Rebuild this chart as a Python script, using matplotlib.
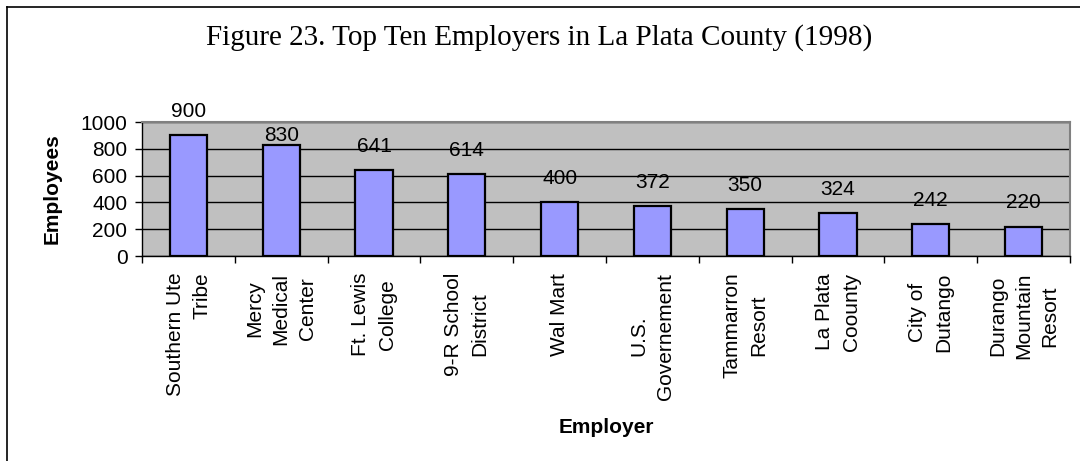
import matplotlib
matplotlib.use("Agg")
import matplotlib.pyplot as plt
from matplotlib.lines import Line2D
import numpy as np

categories = ["Southern Ute\nTribe", "Mercy\nMedical\nCenter", "Ft. Lewis\nCollege",
              "9-R School\nDistrict", "Wal Mart", "U.S.\nGovernement", "Tammarron\nResort",
              "La Plata\nCoounty", "City of\nDutango", "Durango\nMountain\nResort"]
employees = [900, 830, 641, 614, 400, 372, 350, 324, 242, 220]
yticks = [0, 200, 400, 600, 800, 1000]

# style: offset of value labels above bar tops (points)
label_offsets = [13, 2.6, 13, 13, 13, 13, 13, 13, 13, 13]
label_align = ["right"] + ["center"] * 9

plt.rcParams['font.family'] = ['Liberation Sans', 'DejaVu Sans']

fig = plt.figure(figsize=(10.8, 4.61), dpi=100)
ax = fig.add_axes([142/1080, 1-256/461, 928/1080, 134/461])
ax.set_facecolor("#C0C0C0")

x = np.arange(len(categories))
bars = ax.bar(x, employees, width=0.4, color="#9999FF", edgecolor="black", linewidth=1.6, zorder=3)
ax.set_xlim(-0.5, len(categories) - 0.5)
ax.set_ylim(0, 1000)
ax.set_yticks(yticks)
ax.set_yticklabels([str(v) for v in yticks], fontsize=15)
ax.yaxis.grid(True, color="black", linewidth=1.0, zorder=1)
ax.set_axisbelow(True)

ax.set_xticks(x)
ax.set_xticklabels(categories, rotation=90, fontsize=15, va="top", ha="center", linespacing=1.48)
for lbl, al in zip(ax.get_xticklabels(), label_align):
    lbl.set_multialignment(al)
ax.set_xticks(np.arange(len(categories) + 1) - 0.5, minor=True)
ax.tick_params(axis="x", which="major", length=0, pad=12)
ax.tick_params(axis="x", which="minor", length=5, width=1, color="black", direction="out")
ax.tick_params(axis="y", which="major", length=5, width=1, direction="out", pad=5.5)

for s in ["top", "right"]:
    ax.spines[s].set_color("#808080")
    ax.spines[s].set_linewidth(1.5)
for s in ["left", "bottom"]:
    ax.spines[s].set_color("black")
    ax.spines[s].set_linewidth(1.0)

for b, v, off in zip(bars, employees, label_offsets):
    ax.annotate(str(v), (b.get_x() + b.get_width() / 2, v), xytext=(0, off),
                textcoords="offset points", ha="center", va="baseline", fontsize=15, zorder=4)

ax.set_ylabel("Employees", fontsize=15, fontweight="bold")
ax.yaxis.set_label_coords((62 - 142) / 928, 0.5)
ax.set_xlabel("Employer", fontsize=15, fontweight="bold")
ax.xaxis.set_label_coords(0.5, (256 - 418) / 134)

fig.text(539 / 1080, 1 - 45 / 461, "Figure 23. Top Ten Employers in La Plata County (1998)",
         family=["Liberation Serif", "DejaVu Serif"], fontsize=21, ha="center", va="baseline")

# figure border (top and left edges visible)
fig.add_artist(Line2D([7/1080, 7/1080], [0, 1 - 7/461], transform=fig.transFigure, color="black", linewidth=1.2))
fig.add_artist(Line2D([7/1080, 1], [1 - 7/461, 1 - 7/461], transform=fig.transFigure, color="black", linewidth=1.2))

fig.savefig("out.png", dpi=100)
